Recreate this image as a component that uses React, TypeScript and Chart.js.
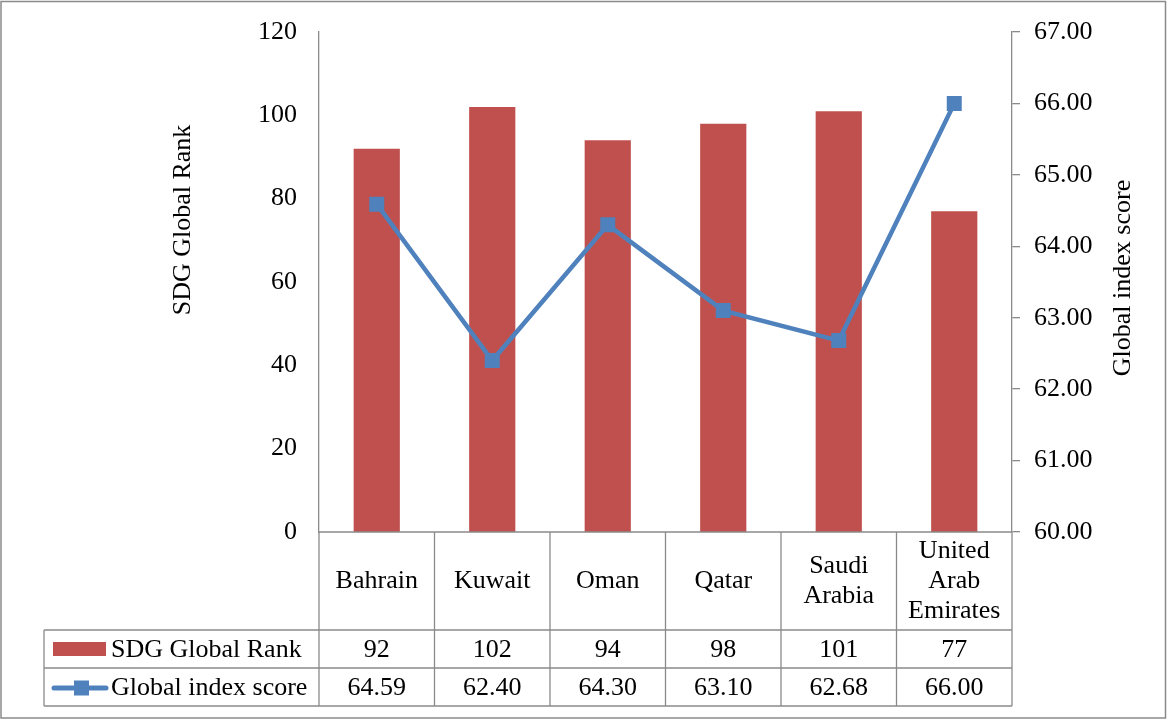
import React, { useEffect, useRef } from "react";
import { Chart, registerables } from "chart.js";

Chart.register(...registerables);

const categories = ["Bahrain", "Kuwait", "Oman", "Qatar", "Saudi Arabia", "United Arab Emirates"];
const rankValues = [92, 102, 94, 98, 101, 77];
const scoreValues = [64.59, 62.4, 64.3, 63.1, 62.68, 66.0];
const rankLabel = "SDG Global Rank";
const scoreLabel = "Global index score";

const FONT = "26px 'Liberation Serif', 'Times New Roman', serif";
const GRAY = "#8a8a8a";
const RED = "#C0504D";
const BLUE = "#4F81BD";

const W = 1167;
const H = 719;

const tablePlugin = {
  id: "tablePlugin",
  beforeDraw(chart: any) {
    const ctx = chart.ctx;
    ctx.save();
    ctx.fillStyle = "#fff";
    ctx.fillRect(0, 0, W, H);
    ctx.restore();
  },
  afterDraw(chart: any) {
    const ctx = chart.ctx;
    const a = chart.chartArea;
    const n = categories.length;
    const colW = (a.right - a.left) / n;
    const rowTop = a.bottom;
    const r1 = rowTop + 98;
    const r2 = r1 + 38;
    const r3 = r2 + 38;
    const tableLeft = 44;
    ctx.save();
    ctx.strokeStyle = GRAY;
    ctx.lineWidth = 1.3;
    ctx.beginPath();
    ctx.moveTo(a.left, rowTop);
    ctx.lineTo(a.right, rowTop);
    [r1, r2, r3].forEach((y) => {
      ctx.moveTo(tableLeft, y);
      ctx.lineTo(a.right, y);
    });
    ctx.moveTo(tableLeft, r1);
    ctx.lineTo(tableLeft, r3);
    for (let k = 0; k <= n; k++) {
      const x = a.left + k * colW;
      ctx.moveTo(x, rowTop);
      ctx.lineTo(x, r3);
    }
    ctx.stroke();

    ctx.fillStyle = "#000";
    ctx.font = FONT;
    ctx.textAlign = "center";
    ctx.textBaseline = "middle";
    const xs = chart.scales.x;
    categories.forEach((c, i) => {
      const cx = xs.getPixelForValue(i);
      let lines = [c];
      if (ctx.measureText(c).width > colW - 10) lines = c.split(" ");
      const lh = 30;
      const cy = (rowTop + r1) / 2;
      lines.forEach((ln, j) => {
        ctx.fillText(ln, cx, cy + (j - (lines.length - 1) / 2) * lh);
      });
      ctx.fillText(String(rankValues[i]), cx, (r1 + r2) / 2 + 1);
      ctx.fillText(scoreValues[i].toFixed(2), cx, (r2 + r3) / 2 + 1);
    });

    // legend keys
    ctx.textAlign = "left";
    ctx.fillText(rankLabel, 111, (r1 + r2) / 2 + 1);
    ctx.fillText(scoreLabel, 111, (r2 + r3) / 2 + 1);
    ctx.fillStyle = RED;
    ctx.fillRect(53, (r1 + r2) / 2 - 7, 53, 14);
    const ly = (r2 + r3) / 2 + 1;
    ctx.strokeStyle = BLUE;
    ctx.lineWidth = 5;
    ctx.lineCap = "round";
    ctx.beginPath();
    ctx.moveTo(54, ly);
    ctx.lineTo(106, ly);
    ctx.stroke();
    ctx.fillStyle = BLUE;
    ctx.fillRect(74, ly - 7.5, 15, 15);

    // axis titles
    ctx.fillStyle = "#000";
    ctx.textAlign = "center";
    ctx.textBaseline = "middle";
    ctx.save();
    ctx.translate(183, 220);
    ctx.rotate(-Math.PI / 2);
    ctx.fillText(rankLabel, 0, 0);
    ctx.restore();
    ctx.save();
    ctx.translate(1123, 278);
    ctx.rotate(-Math.PI / 2);
    ctx.fillText(scoreLabel, 0, 0);
    ctx.restore();

    // outer border
    ctx.strokeStyle = GRAY;
    ctx.lineWidth = 1.5;
    ctx.strokeRect(1, 1.5, W - 2.5, H - 2.5);
    ctx.restore();
  },
};

export default function App() {
  const ref = useRef<HTMLCanvasElement | null>(null);
  useEffect(() => {
    if (!ref.current) return;
    const tickFont = { family: "'Liberation Serif', 'Times New Roman', serif", size: 26 };
    const chart = new Chart(ref.current, {
      type: "bar",
      data: {
        labels: categories,
        datasets: [
          {
            type: "line",
            label: scoreLabel,
            data: scoreValues,
            yAxisID: "y1",
            borderColor: BLUE,
            backgroundColor: BLUE,
            borderWidth: 4.5,
            pointStyle: "rect",
            pointRadius: 10.6,
            pointBackgroundColor: BLUE,
            pointBorderWidth: 0,
            tension: 0,
            order: 0,
          } as any,
          {
            type: "bar",
            label: rankLabel,
            data: rankValues,
            yAxisID: "y",
            backgroundColor: RED,
            categoryPercentage: 0.8,
            barPercentage: 0.5,
            order: 1,
          },
        ],
      },
      options: {
        responsive: false,
        animation: false,
        devicePixelRatio: 1,
        layout: { padding: { left: 0, right: 0, top: 32, bottom: 187 } },
        plugins: { legend: { display: false }, tooltip: { enabled: false } },
        scales: {
          x: { display: false, offset: true },
          y: {
            position: "left",
            min: 0,
            max: 120,
            ticks: { stepSize: 20, font: tickFont, color: "#000", padding: 22 },
            grid: { display: false, drawTicks: false },
            border: { display: true, color: GRAY, width: 1.3 },
            afterFit: (s: any) => {
              s.width = 319;
              s.paddingTop = 0;
              s.paddingBottom = 0;
            },
          },
          y1: {
            position: "right",
            min: 60,
            max: 67,
            ticks: {
              stepSize: 1,
              font: tickFont,
              color: "#000",
              padding: 14,
              callback: (v: any) => Number(v).toFixed(2),
            },
            grid: { display: true, drawOnChartArea: false, drawTicks: true, tickLength: 8, color: GRAY, lineWidth: 1.3 },
            border: { display: true, color: GRAY, width: 1.3 },
            afterFit: (s: any) => {
              s.width = W - 1012;
              s.paddingTop = 0;
              s.paddingBottom = 0;
            },
          },
        },
      },
      plugins: [tablePlugin],
    });
    return () => chart.destroy();
  }, []);
  return (
    <div style={{ position: "absolute", left: 0, top: 0, width: W, height: H }}>
      <canvas ref={ref} width={W} height={H} style={{ width: W, height: H, display: "block" }} />
    </div>
  );
}
